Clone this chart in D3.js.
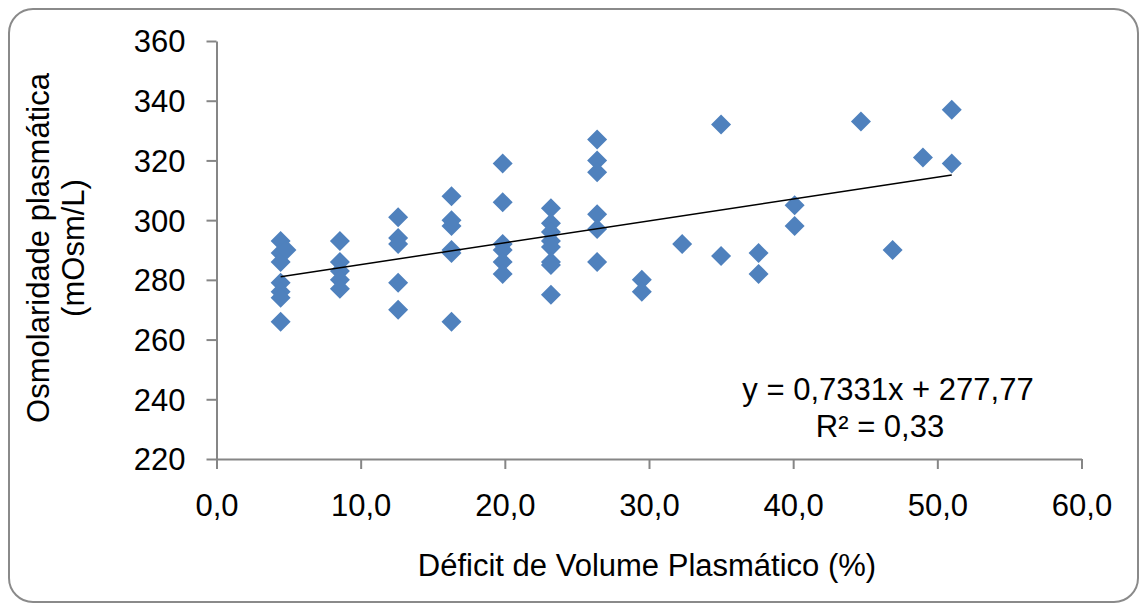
<!DOCTYPE html>
<html><head><meta charset="utf-8">
<script src="https://cdn.jsdelivr.net/npm/d3@7"></script>
<style>
html,body{margin:0;padding:0;background:#fff;}
text{font-family:"Liberation Sans",Arial,sans-serif;fill:#000;}
</style></head>
<body>
<svg id="chart" width="1141" height="605"></svg>
<script>
// Data
const deficit = [4.45,4.45,4.45,4.45,4.45,4.45,4.45,4.85,
  8.56,8.56,8.56,8.56,8.56,
  12.6,12.6,12.6,12.6,12.6,
  16.3,16.3,16.3,16.3,16.3,16.3,
  19.85,19.85,19.85,19.85,19.85,19.85,
  23.2,23.2,23.2,23.2,23.2,23.2,23.2,23.2,
  26.4,26.4,26.4,26.4,26.4,26.4,
  29.5,29.5,
  32.3,35.0,35.0,37.6,37.6,40.1,40.1,44.7,46.9,49.0,51.0,51.0];
const osmolarity = [293,289,286,279,276,274,266,290,
  293,286,283,280,277,
  301,294,292,279,270,
  308,300,298,290,289,266,
  319,306,292,290,286,282,
  304,299,296,293,291,286,285,275,
  327,320,316,302,297,286,
  280,276,
  292,332,288,289,282,305,298,333,290,321,337,319];
const xTicks = [0,10,20,30,40,50,60];
const yTicks = [220,240,260,280,300,320,340,360];
const slope = 0.7331, intercept = 277.77;
const equationLabel = "y = 0,7331x + 277,77";
const r2Label = "R² = 0,33";
const xTitle = "Déficit de Volume Plasmático (%)";
const yTitleLines = ["Osmolaridade plasmática","(mOsm/L)"];

const svg = d3.select("#chart");
const FS = 31;
const axisColor = "#868686";

// outer rounded border
svg.append("rect").attr("x",9).attr("y",9).attr("width",1129).attr("height",593)
  .attr("rx",24).attr("ry",24).attr("fill","#fff").attr("stroke","#8a8a8a").attr("stroke-width",2);

const x = d3.scaleLinear().domain([0,60]).range([216.5,1081.5]);
const y = d3.scaleLinear().domain([220,360]).range([459,41]);
const fmt = d => d.toFixed(1).replace(".",",");

// x axis
const gx = svg.append("g").attr("transform",`translate(0,${y(220)})`)
  .call(d3.axisBottom(x).tickValues(xTicks).tickSize(10).tickSizeOuter(0).tickFormat(fmt));
gx.select(".domain").attr("stroke",axisColor).attr("stroke-width",2);
gx.selectAll(".tick line").attr("stroke",axisColor).attr("stroke-width",2);
gx.selectAll(".tick text").attr("y",57).attr("dy",0).style("font-size",FS+"px")
  .style("font-family",'"Liberation Sans",Arial,sans-serif').attr("fill","#000");

// y axis
const gy = svg.append("g").attr("transform",`translate(${x(0)},0)`)
  .call(d3.axisLeft(y).tickValues(yTicks).tickSize(10).tickSizeOuter(0));
gy.select(".domain").attr("stroke",axisColor).attr("stroke-width",2);
gy.selectAll(".tick line").attr("stroke",axisColor).attr("stroke-width",2);
gy.selectAll(".tick text").attr("x",-31).attr("dy","0.35em").style("font-size",FS+"px")
  .style("font-family",'"Liberation Sans",Arial,sans-serif').attr("fill","#000");

// points
const pts = deficit.map((d,i)=>({x:d,y:osmolarity[i]}));
const sym = d3.symbol().type(d3.symbolSquare).size(200);
svg.append("g").selectAll("path").data(pts).join("path")
  .attr("d",sym)
  .attr("transform",d=>`translate(${x(d.x)},${y(d.y)}) rotate(45)`)
  .attr("fill","#4F81BD");

// trend line
const xmin = d3.min(deficit), xmax = d3.max(deficit);
svg.append("line")
  .attr("x1",x(xmin)).attr("y1",y(slope*xmin+intercept))
  .attr("x2",x(xmax)).attr("y2",y(slope*xmax+intercept))
  .attr("stroke","#000").attr("stroke-width",1.5);

// equation
svg.append("text").attr("x",888).attr("y",400).attr("text-anchor","middle")
  .style("font-size",FS+"px").text(equationLabel);
svg.append("text").attr("x",880).attr("y",437).attr("text-anchor","middle")
  .style("font-size",FS+"px").text(r2Label);

// x title
svg.append("text").attr("x",647).attr("y",576).attr("text-anchor","middle")
  .style("font-size",FS+"px").text(xTitle);

// y title
const yt = svg.append("text").attr("transform","translate(49,248) rotate(-90)")
  .attr("text-anchor","middle").style("font-size",FS+"px");
yt.append("tspan").attr("x",0).attr("y",0).text(yTitleLines[0]);
yt.append("tspan").attr("x",0).attr("y",35).text(yTitleLines[1]);
</script>
</body></html>
